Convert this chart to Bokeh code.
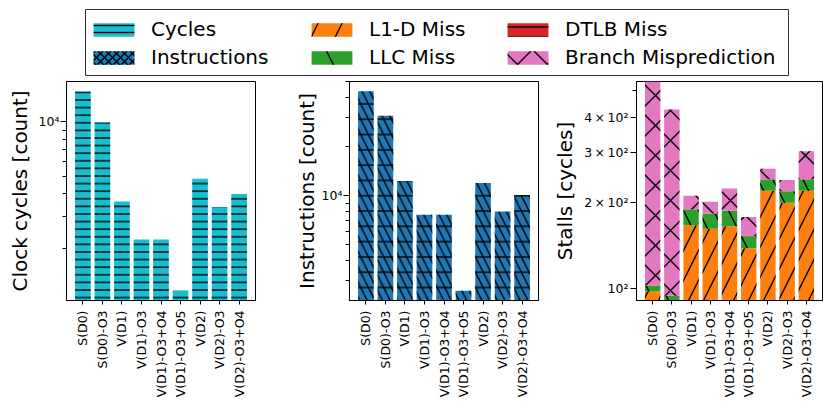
import math
import numpy as np
from bokeh.plotting import figure
from bokeh.layouts import column, row
from bokeh.models import (FixedTicker, CustomJSTickFormatter, Legend, LegendItem, Range1d)
from bokeh.embed import file_html
from bokeh.resources import INLINE

# ---------------- data ----------------
configs = ["S(D0)", "S(D0)-O3", "V(D1)", "V(D1)-O3", "V(D1)-O3+O4",
           "V(D1)-O3+O5", "V(D2)", "V(D2)-O3", "V(D2)-O3+O4"]
cycles = [14700, 9900, 3620, 2230, 2230, 1160, 4840, 3380, 3990]
instructions = [43700, 31000, 12300, 7630, 7630, 2600, 11950, 7950, 10100]
l1d_miss = [97.4, 85.0, 166.6, 162.2, 165.3, 138.4, 220.9, 200.0, 220.9]
llc_miss = [4.5, 8.8, 23.0, 20.8, 22.2, 14.1, 21.1, 19.7, 21.1]
dtlb_miss = [0.3, 0.3, 0.3, 0.3, 0.3, 0.3, 0.3, 0.3, 0.3]
branch_mispred = [520.0, 333.0, 22.0, 18.6, 37.0, 25.6, 21.8, 21.0, 62.0]

cycles_ticks = [10000]
cycles_tick_labels = ["10\u2074"]
cycles_minor = [2000, 3000, 4000, 5000, 6000, 7000, 8000, 9000]
instr_ticks = [10000]
instr_tick_labels = ["10\u2074"]
instr_minor = [3000, 4000, 5000, 6000, 7000, 8000, 9000, 20000, 30000, 40000, 50000]
stall_ticks = [100, 200, 300, 400]
stall_tick_labels = ["10\u00b2", "2\u2009\u00d7\u200910\u00b2", "3\u2009\u00d7\u200910\u00b2", "4\u2009\u00d7\u200910\u00b2"]
stall_minor = [500]

FONT = "DejaVu Sans"
C_CYC = "#17becf"
C_INS = "#1f77b4"
C_L1D = "#ff7f0e"
C_LLC = "#2ca02c"
C_DTLB = "#d62728"
C_BR = "#e377c2"

x = np.arange(len(configs))


def make_panel(width, bl, br, y0, y1, ylabel, ticks, tick_labels, minor, lab_standoff, tick_standoff):
    p = figure(width=width, height=320, x_range=Range1d(-0.84, len(configs) - 1 + 0.84),
               y_range=Range1d(y0, y1), y_axis_type="log",
               output_backend="svg", toolbar_location=None,
               min_border_left=bl, min_border_right=br, min_border_top=1, min_border_bottom=98)
    p.xgrid.visible = False
    p.ygrid.visible = False
    p.outline_line_color = "black"
    p.outline_line_alpha = 1
    p.outline_line_width = 1

    ya = p.yaxis[0]
    ya.ticker = FixedTicker(ticks=ticks, minor_ticks=minor)
    ya.formatter = CustomJSTickFormatter(args=dict(t=ticks, l=tick_labels),
                                         code="const i = t.indexOf(tick); return i >= 0 ? l[i] : '';")
    ya.axis_label = ylabel
    ya.axis_label_text_font = FONT
    ya.axis_label_text_font_size = "20px"
    ya.axis_label_text_font_style = "normal"
    ya.axis_label_text_color = "black"
    ya.axis_label_standoff = lab_standoff
    ya.major_label_text_font = FONT
    ya.major_label_text_font_size = "12.5px"
    ya.major_label_text_color = "black"
    ya.major_label_standoff = tick_standoff
    ya.major_tick_out = 6
    ya.major_tick_in = 0
    ya.minor_tick_out = 4
    ya.minor_tick_in = 0
    ya.axis_line_color = "black"
    ya.major_tick_line_color = "black"
    ya.minor_tick_line_color = "black"

    xa = p.xaxis[0]
    xa.ticker = FixedTicker(ticks=list(range(len(configs))), minor_ticks=[])
    xa.formatter = CustomJSTickFormatter(args=dict(n=configs),
                                         code="return n[Math.round(tick)];")
    xa.major_label_orientation = math.pi / 2
    xa.major_label_text_font = FONT
    xa.major_label_text_font_size = "12.5px"
    xa.major_label_text_color = "black"
    xa.major_label_standoff = 6
    xa.major_tick_out = 4
    xa.major_tick_in = 0
    xa.minor_tick_out = 0
    xa.axis_line_color = "black"
    xa.major_tick_line_color = "black"
    return p


HW = 1.4

# panel 1: cycles
p1 = make_panel(283, 66, 28, 1026, 16700, "Clock cycles [count]",
                cycles_ticks, cycles_tick_labels, cycles_minor, 4, 1)
p1.vbar(x=x, top=cycles, bottom=1, width=0.8, fill_color=C_CYC, line_color=None,
        hatch_pattern="-", hatch_scale=7.6, hatch_weight=HW, hatch_color="black")

# panel 2: instructions
p2 = make_panel(267, 66, 12, 2268, 50240, "Instructions [count]",
                instr_ticks, instr_tick_labels, instr_minor, 0, 1)
p2.vbar(x=x, top=instructions, bottom=1, width=0.8, fill_color=C_INS, line_color=None,
        hatch_pattern="-", hatch_scale=15.3, hatch_weight=HW, hatch_color="black")
p2.vbar(x=x, top=instructions, bottom=1, width=0.8, fill_alpha=0, line_color=None,
        hatch_pattern="\\", hatch_scale=15.3, hatch_weight=HW, hatch_color="black")

# panel 3: stalls (stacked)
p3 = make_panel(274, 83, 2, 90.5, 536, "Stalls [cycles]",
                stall_ticks, stall_tick_labels, stall_minor, 4, 2)
segments = [(l1d_miss, C_L1D, "/"), (llc_miss, C_LLC, "\\"),
            (dtlb_miss, C_DTLB, "-"), (branch_mispred, C_BR, "x")]
base = np.ones(len(configs))
cum = np.zeros(len(configs))
for vals, col, pat in segments:
    bottom = np.where(cum > 0, cum, base)
    cum = cum + np.array(vals, dtype=float)
    p3.vbar(x=x, top=cum, bottom=bottom, width=0.8, fill_color=col, line_color=None,
            hatch_pattern=pat, hatch_scale=30, hatch_weight=HW, hatch_color="black")

# legend figure
leg = figure(width=824, height=80, x_range=Range1d(0, 1), y_range=Range1d(0, 1),
             output_backend="svg", toolbar_location=None,
             x_axis_location=None, y_axis_location=None,
             min_border_left=85, min_border_right=36, min_border_top=9, min_border_bottom=5)
leg.outline_line_color = "#333333"
leg.outline_line_width = 1
leg.grid.visible = False

legend_specs = [
    ("Cycles", C_CYC, "-", 7),
    ("Instructions", C_INS, "x", 8),
    ("L1-D Miss", C_L1D, "/", 48),
    ("LLC Miss", C_LLC, "\\", 75),
    ("DTLB Miss", C_DTLB, "-", 10),
    ("Branch Misprediction", C_BR, "x", 30),
]
items = []
for name, col, pat, sc in legend_specs:
    r = leg.vbar(x=[10], top=[11], bottom=[10], width=0.5, fill_color=col, line_color=None,
                 hatch_pattern=pat, hatch_scale=sc, hatch_weight=HW, hatch_color="black")
    items.append(LegendItem(label=name, renderers=[r]))

col_x = [3, 221, 417]
row_y = [34, 6]
for k, item in enumerate(items):
    lg = Legend(items=[item], location=(col_x[k // 2], row_y[k % 2]), orientation="vertical",
                glyph_width=51, glyph_height=17, label_standoff=12, spacing=0,
                padding=0, margin=0, border_line_color=None, background_fill_alpha=0,
                label_text_font=FONT, label_text_font_size="20px", label_text_color="black",
                label_height=23)
    leg.add_layout(lg)

layout = column(leg, row(p1, p2, p3))
open("out.html", "w").write(file_html(layout, INLINE))
